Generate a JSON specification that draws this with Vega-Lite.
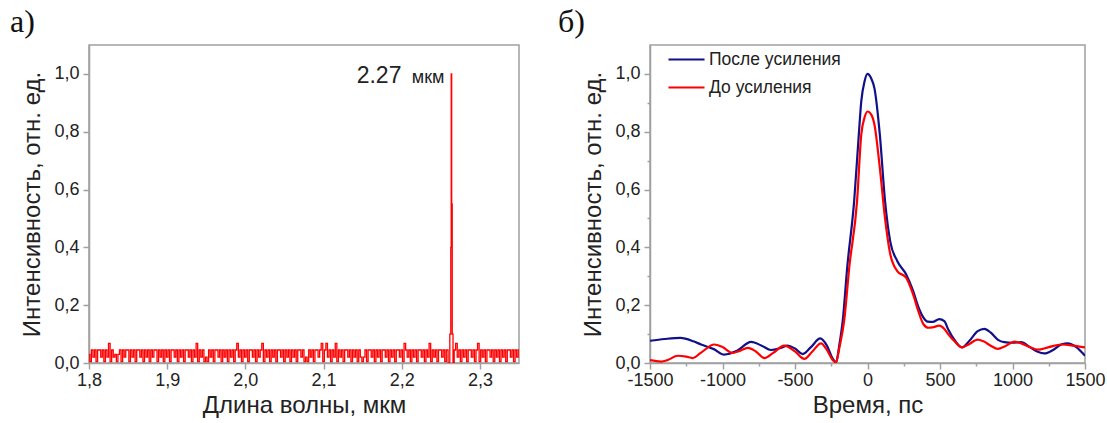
{
  "$schema": "https://vega.github.io/schema/vega-lite/v6.json",
  "padding": {"left": 9, "top": 4, "right": 0, "bottom": 0},
  "autosize": {"type": "pad"},
  "background": "white",
  "config": {
    "font": "Liberation Sans",
    "view": {"stroke": "#a0a0a0", "strokeWidth": 1.5},
    "axis": {
      "grid": false,
      "domainColor": "#a0a0a0",
      "domainWidth": 1.5,
      "tickColor": "#a0a0a0",
      "tickWidth": 1.5,
      "labelFont": "Liberation Sans",
      "labelFontSize": 18,
      "labelColor": "#222222",
      "labelFlush": false,
      "labelOverlap": false,
      "titleFont": "Liberation Sans",
      "titleFontSize": 24,
      "titleFontWeight": "normal",
      "titleColor": "#222222"
    },
    "title": {"font": "Liberation Serif", "fontSize": 32, "fontWeight": "normal", "color": "#111111", "anchor": "start", "frame": "group", "baseline": "alphabetic", "offset": 6.5}
  },
  "datasets": {
    "spectrum": [
      {"w":1.800,"i":0.03},{"w":1.802,"i":0.005},{"w":1.804,"i":0.045},{"w":1.806,"i":0.02},{"w":1.808,"i":0.045},{"w":1.810,"i":0.005},{"w":1.812,"i":0.045},{"w":1.814,"i":0.045},{"w":1.816,"i":0.02},{"w":1.818,"i":0.045},
      {"w":1.820,"i":0.005},{"w":1.822,"i":0.045},{"w":1.824,"i":0.02},{"w":1.826,"i":0.068},{"w":1.828,"i":0.005},{"w":1.830,"i":0.045},{"w":1.832,"i":0.02},{"w":1.834,"i":0.03},{"w":1.836,"i":0.005},{"w":1.838,"i":0.03},
      {"w":1.840,"i":0.045},{"w":1.842,"i":0.005},{"w":1.844,"i":0.045},{"w":1.846,"i":0.02},{"w":1.848,"i":0.045},{"w":1.850,"i":0.045},{"w":1.852,"i":0.005},{"w":1.854,"i":0.045},{"w":1.856,"i":0.02},{"w":1.858,"i":0.045},
      {"w":1.860,"i":0.005},{"w":1.862,"i":0.045},{"w":1.864,"i":0.045},{"w":1.866,"i":0.02},{"w":1.868,"i":0.045},{"w":1.870,"i":0.005},{"w":1.872,"i":0.045},{"w":1.874,"i":0.02},{"w":1.876,"i":0.045},{"w":1.878,"i":0.005},
      {"w":1.880,"i":0.045},{"w":1.882,"i":0.02},{"w":1.884,"i":0.045},{"w":1.886,"i":0.045},{"w":1.888,"i":0.005},{"w":1.890,"i":0.045},{"w":1.892,"i":0.02},{"w":1.894,"i":0.045},{"w":1.896,"i":0.005},{"w":1.898,"i":0.045},
      {"w":1.900,"i":0.02},{"w":1.902,"i":0.045},{"w":1.904,"i":0.005},{"w":1.906,"i":0.045},{"w":1.908,"i":0.045},{"w":1.910,"i":0.02},{"w":1.912,"i":0.045},{"w":1.914,"i":0.005},{"w":1.916,"i":0.045},{"w":1.918,"i":0.02},
      {"w":1.920,"i":0.045},{"w":1.922,"i":0.005},{"w":1.924,"i":0.045},{"w":1.926,"i":0.045},{"w":1.928,"i":0.02},{"w":1.930,"i":0.045},{"w":1.932,"i":0.005},{"w":1.934,"i":0.045},{"w":1.936,"i":0.02},{"w":1.938,"i":0.068},
      {"w":1.940,"i":0.005},{"w":1.942,"i":0.045},{"w":1.944,"i":0.02},{"w":1.946,"i":0.045},{"w":1.948,"i":0.005},{"w":1.950,"i":0.02},{"w":1.952,"i":0.005},{"w":1.954,"i":0.045},{"w":1.956,"i":0.02},{"w":1.958,"i":0.045},
      {"w":1.960,"i":0.005},{"w":1.962,"i":0.045},{"w":1.964,"i":0.045},{"w":1.966,"i":0.02},{"w":1.968,"i":0.045},{"w":1.970,"i":0.005},{"w":1.972,"i":0.045},{"w":1.974,"i":0.02},{"w":1.976,"i":0.045},{"w":1.978,"i":0.005},
      {"w":1.980,"i":0.045},{"w":1.982,"i":0.02},{"w":1.984,"i":0.045},{"w":1.986,"i":0.005},{"w":1.988,"i":0.045},{"w":1.990,"i":0.068},{"w":1.992,"i":0.02},{"w":1.994,"i":0.045},{"w":1.996,"i":0.005},{"w":1.998,"i":0.045},
      {"w":2.000,"i":0.02},{"w":2.002,"i":0.045},{"w":2.004,"i":0.005},{"w":2.006,"i":0.045},{"w":2.008,"i":0.045},{"w":2.010,"i":0.02},{"w":2.012,"i":0.045},{"w":2.014,"i":0.005},{"w":2.016,"i":0.045},{"w":2.018,"i":0.02},
      {"w":2.020,"i":0.045},{"w":2.022,"i":0.068},{"w":2.024,"i":0.005},{"w":2.026,"i":0.045},{"w":2.028,"i":0.02},{"w":2.030,"i":0.045},{"w":2.032,"i":0.005},{"w":2.034,"i":0.045},{"w":2.036,"i":0.02},{"w":2.038,"i":0.045},
      {"w":2.040,"i":0.005},{"w":2.042,"i":0.045},{"w":2.044,"i":0.045},{"w":2.046,"i":0.02},{"w":2.048,"i":0.045},{"w":2.050,"i":0.005},{"w":2.052,"i":0.045},{"w":2.054,"i":0.02},{"w":2.056,"i":0.045},{"w":2.058,"i":0.005},
      {"w":2.060,"i":0.045},{"w":2.062,"i":0.02},{"w":2.064,"i":0.045},{"w":2.066,"i":0.005},{"w":2.068,"i":0.045},{"w":2.070,"i":0.045},{"w":2.072,"i":0.02},{"w":2.074,"i":0.045},{"w":2.076,"i":0.005},{"w":2.078,"i":0.02},
      {"w":2.080,"i":0.005},{"w":2.082,"i":0.045},{"w":2.084,"i":0.02},{"w":2.086,"i":0.045},{"w":2.088,"i":0.005},{"w":2.090,"i":0.045},{"w":2.092,"i":0.045},{"w":2.094,"i":0.02},{"w":2.096,"i":0.045},{"w":2.098,"i":0.068},
      {"w":2.100,"i":0.005},{"w":2.102,"i":0.045},{"w":2.104,"i":0.068},{"w":2.106,"i":0.02},{"w":2.108,"i":0.045},{"w":2.110,"i":0.005},{"w":2.112,"i":0.045},{"w":2.114,"i":0.02},{"w":2.116,"i":0.068},{"w":2.118,"i":0.005},
      {"w":2.120,"i":0.045},{"w":2.122,"i":0.02},{"w":2.124,"i":0.045},{"w":2.126,"i":0.005},{"w":2.128,"i":0.045},{"w":2.130,"i":0.045},{"w":2.132,"i":0.02},{"w":2.134,"i":0.045},{"w":2.136,"i":0.005},{"w":2.138,"i":0.045},
      {"w":2.140,"i":0.02},{"w":2.142,"i":0.045},{"w":2.144,"i":0.005},{"w":2.146,"i":0.045},{"w":2.148,"i":0.02},{"w":2.150,"i":0.005},{"w":2.152,"i":0.02},{"w":2.154,"i":0.045},{"w":2.156,"i":0.005},{"w":2.158,"i":0.045},
      {"w":2.160,"i":0.045},{"w":2.162,"i":0.02},{"w":2.164,"i":0.045},{"w":2.166,"i":0.005},{"w":2.168,"i":0.045},{"w":2.170,"i":0.02},{"w":2.172,"i":0.045},{"w":2.174,"i":0.005},{"w":2.176,"i":0.045},{"w":2.178,"i":0.045},
      {"w":2.180,"i":0.02},{"w":2.182,"i":0.045},{"w":2.184,"i":0.005},{"w":2.186,"i":0.045},{"w":2.188,"i":0.02},{"w":2.190,"i":0.045},{"w":2.192,"i":0.005},{"w":2.194,"i":0.045},{"w":2.196,"i":0.045},{"w":2.198,"i":0.02},
      {"w":2.200,"i":0.045},{"w":2.202,"i":0.005},{"w":2.204,"i":0.068},{"w":2.206,"i":0.045},{"w":2.208,"i":0.02},{"w":2.210,"i":0.045},{"w":2.212,"i":0.005},{"w":2.214,"i":0.045},{"w":2.216,"i":0.02},{"w":2.218,"i":0.045},
      {"w":2.220,"i":0.005},{"w":2.222,"i":0.045},{"w":2.224,"i":0.045},{"w":2.226,"i":0.02},{"w":2.228,"i":0.045},{"w":2.230,"i":0.005},{"w":2.232,"i":0.045},{"w":2.234,"i":0.02},{"w":2.236,"i":0.068},{"w":2.238,"i":0.005},
      {"w":2.240,"i":0.045},{"w":2.242,"i":0.02},{"w":2.244,"i":0.045},{"w":2.246,"i":0.005},{"w":2.248,"i":0.045},{"w":2.250,"i":0.045},{"w":2.252,"i":0.02},{"w":2.254,"i":0.045},{"w":2.256,"i":0.005},{"w":2.258,"i":0.045},
      {"w":2.2605,"i":0.0},{"w":2.2625,"i":0.1},{"w":2.263,"i":0.4},{"w":2.2636,"i":1.0},{"w":2.2642,"i":0.55},{"w":2.265,"i":0.1},{"w":2.2662,"i":0.0},
      {"w":2.268,"i":0.045},{"w":2.270,"i":0.068},{"w":2.272,"i":0.02},{"w":2.274,"i":0.045},{"w":2.276,"i":0.005},{"w":2.278,"i":0.045},
      {"w":2.280,"i":0.02},{"w":2.282,"i":0.045},{"w":2.284,"i":0.005},{"w":2.286,"i":0.045},{"w":2.288,"i":0.045},{"w":2.290,"i":0.02},{"w":2.292,"i":0.045},{"w":2.294,"i":0.005},{"w":2.296,"i":0.045},{"w":2.298,"i":0.068},
      {"w":2.300,"i":0.005},{"w":2.302,"i":0.045},{"w":2.304,"i":0.02},{"w":2.306,"i":0.045},{"w":2.308,"i":0.005},{"w":2.310,"i":0.045},{"w":2.312,"i":0.045},{"w":2.314,"i":0.02},{"w":2.316,"i":0.045},{"w":2.318,"i":0.005},
      {"w":2.320,"i":0.045},{"w":2.322,"i":0.02},{"w":2.324,"i":0.045},{"w":2.326,"i":0.005},{"w":2.328,"i":0.045},{"w":2.330,"i":0.02},{"w":2.332,"i":0.045},{"w":2.334,"i":0.005},{"w":2.336,"i":0.045},{"w":2.338,"i":0.045},
      {"w":2.340,"i":0.02},{"w":2.342,"i":0.045},{"w":2.344,"i":0.005},{"w":2.346,"i":0.045},{"w":2.348,"i":0.02},{"w":2.350,"i":0.045}
    ],
    "peak": [{"w": 2.2636, "i": 1.0, "value": "2.27", "unit": "мкм"}],
    "pulse": [
      {"t":-1500,"v":0.077,"s":"После усиления"},{"t":-1400,"v":0.083,"s":"После усиления"},{"t":-1290,"v":0.087,"s":"После усиления"},{"t":-1200,"v":0.075,"s":"После усиления"},{"t":-1148,"v":0.064,"s":"После усиления"},{"t":-1060,"v":0.048,"s":"После усиления"},{"t":-988,"v":0.029,"s":"После усиления"},{"t":-900,"v":0.042,"s":"После усиления"},{"t":-803,"v":0.073,"s":"После усиления"},{"t":-730,"v":0.06,"s":"После усиления"},{"t":-666,"v":0.045,"s":"После усиления"},{"t":-600,"v":0.052,"s":"После усиления"},{"t":-551,"v":0.06,"s":"После усиления"},{"t":-500,"v":0.05,"s":"После усиления"},{"t":-447,"v":0.031,"s":"После усиления"},{"t":-390,"v":0.055,"s":"После усиления"},{"t":-326,"v":0.085,"s":"После усиления"},{"t":-280,"v":0.06,"s":"После усиления"},{"t":-240,"v":0.015,"s":"После усиления"},{"t":-217,"v":0.002,"s":"После усиления"},{"t":-195,"v":0.06,"s":"После усиления"},{"t":-170,"v":0.15,"s":"После усиления"},{"t":-140,"v":0.33,"s":"После усиления"},{"t":-92,"v":0.56,"s":"После усиления"},{"t":-60,"v":0.79,"s":"После усиления"},{"t":-43,"v":0.905,"s":"После усиления"},{"t":-20,"v":0.975,"s":"После усиления"},{"t":0,"v":1.0,"s":"После усиления"},{"t":25,"v":0.985,"s":"После усиления"},{"t":48,"v":0.95,"s":"После усиления"},{"t":85,"v":0.79,"s":"После усиления"},{"t":121,"v":0.56,"s":"После усиления"},{"t":157,"v":0.42,"s":"После усиления"},{"t":205,"v":0.353,"s":"После усиления"},{"t":266,"v":0.307,"s":"После усиления"},{"t":314,"v":0.25,"s":"После усиления"},{"t":350,"v":0.195,"s":"После усиления"},{"t":386,"v":0.157,"s":"После усиления"},{"t":415,"v":0.143,"s":"После усиления"},{"t":450,"v":0.142,"s":"После усиления"},{"t":495,"v":0.152,"s":"После усиления"},{"t":530,"v":0.145,"s":"После усиления"},{"t":556,"v":0.117,"s":"После усиления"},{"t":600,"v":0.08,"s":"После усиления"},{"t":652,"v":0.054,"s":"После усиления"},{"t":700,"v":0.075,"s":"После усиления"},{"t":760,"v":0.11,"s":"После усиления"},{"t":806,"v":0.118,"s":"После усиления"},{"t":850,"v":0.105,"s":"После усиления"},{"t":900,"v":0.08,"s":"После усиления"},{"t":943,"v":0.072,"s":"После усиления"},{"t":1000,"v":0.07,"s":"После усиления"},{"t":1059,"v":0.072,"s":"После усиления"},{"t":1120,"v":0.055,"s":"После усиления"},{"t":1170,"v":0.04,"s":"После усиления"},{"t":1219,"v":0.033,"s":"После усиления"},{"t":1280,"v":0.045,"s":"После усиления"},{"t":1340,"v":0.065,"s":"После усиления"},{"t":1380,"v":0.068,"s":"После усиления"},{"t":1440,"v":0.055,"s":"После усиления"},{"t":1500,"v":0.025,"s":"После усиления"},
      {"t":-1500,"v":0.01,"s":"До усиления"},{"t":-1424,"v":0.005,"s":"До усиления"},{"t":-1380,"v":0.01,"s":"До усиления"},{"t":-1309,"v":0.025,"s":"До усиления"},{"t":-1250,"v":0.022,"s":"До усиления"},{"t":-1206,"v":0.017,"s":"До усиления"},{"t":-1150,"v":0.035,"s":"До усиления"},{"t":-1057,"v":0.064,"s":"До усиления"},{"t":-1000,"v":0.055,"s":"До усиления"},{"t":-930,"v":0.035,"s":"До усиления"},{"t":-880,"v":0.042,"s":"До усиления"},{"t":-826,"v":0.052,"s":"До усиления"},{"t":-770,"v":0.04,"s":"До усиления"},{"t":-711,"v":0.017,"s":"До усиления"},{"t":-650,"v":0.035,"s":"До усиления"},{"t":-574,"v":0.06,"s":"До усиления"},{"t":-500,"v":0.04,"s":"До усиления"},{"t":-436,"v":0.014,"s":"До усиления"},{"t":-380,"v":0.04,"s":"До усиления"},{"t":-321,"v":0.068,"s":"До усиления"},{"t":-280,"v":0.045,"s":"До усиления"},{"t":-240,"v":0.01,"s":"До усиления"},{"t":-217,"v":0.002,"s":"До усиления"},{"t":-195,"v":0.05,"s":"До усиления"},{"t":-160,"v":0.15,"s":"До усиления"},{"t":-126,"v":0.33,"s":"До усиления"},{"t":-72,"v":0.56,"s":"До усиления"},{"t":-43,"v":0.79,"s":"До усиления"},{"t":-20,"v":0.85,"s":"До усиления"},{"t":0,"v":0.87,"s":"До усиления"},{"t":25,"v":0.86,"s":"До усиления"},{"t":48,"v":0.824,"s":"До усиления"},{"t":85,"v":0.675,"s":"До усиления"},{"t":121,"v":0.5,"s":"До усиления"},{"t":157,"v":0.376,"s":"До усиления"},{"t":205,"v":0.318,"s":"До усиления"},{"t":266,"v":0.295,"s":"До усиления"},{"t":314,"v":0.238,"s":"До усиления"},{"t":350,"v":0.18,"s":"До усиления"},{"t":386,"v":0.134,"s":"До усиления"},{"t":420,"v":0.122,"s":"До усиления"},{"t":447,"v":0.123,"s":"До усиления"},{"t":495,"v":0.129,"s":"До усиления"},{"t":530,"v":0.118,"s":"До усиления"},{"t":556,"v":0.1,"s":"До усиления"},{"t":600,"v":0.075,"s":"До усиления"},{"t":652,"v":0.054,"s":"До усиления"},{"t":700,"v":0.065,"s":"До усиления"},{"t":760,"v":0.081,"s":"До усиления"},{"t":800,"v":0.075,"s":"До усиления"},{"t":850,"v":0.06,"s":"До усиления"},{"t":898,"v":0.049,"s":"До усиления"},{"t":950,"v":0.058,"s":"До усиления"},{"t":1013,"v":0.074,"s":"До усиления"},{"t":1060,"v":0.068,"s":"До усиления"},{"t":1120,"v":0.055,"s":"До усиления"},{"t":1174,"v":0.046,"s":"До усиления"},{"t":1250,"v":0.055,"s":"До усиления"},{"t":1334,"v":0.064,"s":"До усиления"},{"t":1420,"v":0.06,"s":"До усиления"},{"t":1500,"v":0.054,"s":"До усиления"}
    ]
  },
  "spacing": 37,
  "hconcat": [
    {
      "title": {"text": "а)", "dx": -79},
      "width": 430,
      "height": 318,
      "layer": [
        {
          "data": {"name": "spectrum"},
          "mark": {"type": "line", "color": "#ff0000", "strokeWidth": 1.3, "interpolate": "step", "clip": true},
          "encoding": {
            "x": {"field": "w", "type": "quantitative", "scale": {"domain": [1.8, 2.35], "nice": false, "zero": false},
              "axis": {"title": "Длина волны, мкм", "values": [1.8,1.85,1.9,1.95,2.0,2.05,2.1,2.15,2.2,2.25,2.3,2.35],
                "labelExpr": "round(datum.value*100) % 10 == 0 ? replace(format(datum.value, '.1f'), '.', ',') : ''",
                "tickSize": {"condition": {"test": "round(datum.value*100) % 10 != 0", "value": 3}, "value": 6},
                "labelPadding": 2, "titlePadding": 4}},
            "y": {"field": "i", "type": "quantitative", "scale": {"domain": [0, 1.1], "nice": false},
              "axis": {"title": "Интенсивность, отн. ед.", "values": [0,0.1,0.2,0.3,0.4,0.5,0.6,0.7,0.8,0.9,1.0],
                "labelExpr": "round(datum.value*10) % 2 == 0 ? replace(format(datum.value, '.1f'), '.', ',') : ''",
                "tickSize": {"condition": {"test": "round(datum.value*10) % 2 == 1", "value": 3}, "value": 6},
                "labelPadding": 4, "titlePadding": 9}}
          }
        },
        {
          "data": {"name": "peak"},
          "mark": {"type": "text", "align": "right", "baseline": "alphabetic", "dx": -50, "dy": 9, "fontSize": 23, "color": "#222222"},
          "encoding": {
            "x": {"field": "w", "type": "quantitative"},
            "y": {"field": "i", "type": "quantitative"},
            "text": {"field": "value"}
          }
        },
        {
          "data": {"name": "peak"},
          "mark": {"type": "text", "align": "right", "baseline": "alphabetic", "dx": -7, "dy": 9, "fontSize": 18, "color": "#222222"},
          "encoding": {
            "x": {"field": "w", "type": "quantitative"},
            "y": {"field": "i", "type": "quantitative"},
            "text": {"field": "unit"}
          }
        }
      ]
    },
    {
      "title": {"text": "б)", "dx": -92},
      "width": 435,
      "height": 318,
      "data": {"name": "pulse"},
      "mark": {"type": "line", "strokeWidth": 2.2, "interpolate": "monotone", "clip": true},
      "encoding": {
        "x": {"field": "t", "type": "quantitative", "scale": {"domain": [-1500, 1500], "nice": false, "zero": false},
          "axis": {"title": "Время, пс", "values": [-1500,-1250,-1000,-750,-500,-250,0,250,500,750,1000,1250,1500],
            "labelExpr": "datum.value % 500 == 0 ? '' + datum.value : ''",
            "tickSize": {"condition": {"test": "datum.value % 500 != 0", "value": 3}, "value": 6},
            "labelPadding": 2, "titlePadding": 4}},
        "y": {"field": "v", "type": "quantitative", "scale": {"domain": [0, 1.1], "nice": false},
          "axis": {"title": "Интенсивность, отн. ед.", "values": [0,0.1,0.2,0.3,0.4,0.5,0.6,0.7,0.8,0.9,1.0],
            "labelExpr": "round(datum.value*10) % 2 == 0 ? replace(format(datum.value, '.1f'), '.', ',') : ''",
            "tickSize": {"condition": {"test": "round(datum.value*10) % 2 == 1", "value": 3}, "value": 6},
            "labelPadding": 4, "titlePadding": 9}},
        "color": {"field": "s", "type": "nominal",
          "scale": {"domain": ["После усиления", "До усиления"], "range": ["#10108a", "#ff0000"]},
          "legend": {"title": null, "orient": "none", "legendX": 578, "legendY": -5, "symbolType": "stroke", "symbolSize": 1300, "symbolStrokeWidth": 2.2, "labelFontSize": 17.5, "labelFont": "Liberation Sans", "labelColor": "#222222", "labelOffset": 3, "rowPadding": -4}}
      }
    }
  ]
}
